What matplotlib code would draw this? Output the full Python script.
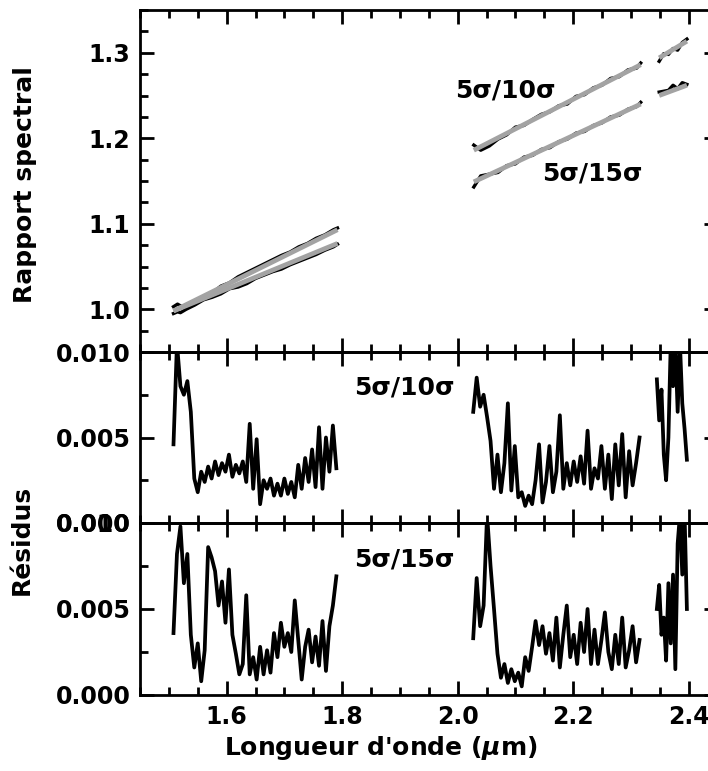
import matplotlib
matplotlib.use("Agg")
import matplotlib.pyplot as plt
from matplotlib.ticker import MultipleLocator, FormatStrFormatter

plt.rcParams['font.family'] = ['DejaVu Sans']
plt.rcParams['font.weight'] = 'bold'

# -------------------------------
# Data
# -------------------------------
# Spectral ratio, 5s/10s and 5s/15s (black, noisy)
r10_x1 = [1.508, 1.515, 1.520, 1.530, 1.545, 1.560, 1.575, 1.590, 1.605, 1.620, 1.635,
          1.650, 1.665, 1.680, 1.695, 1.710, 1.725, 1.740, 1.755, 1.770, 1.785, 1.792]
r10_y1 = [1.003, 1.006, 1.004, 1.001, 1.007, 1.012, 1.019, 1.027, 1.031, 1.038, 1.043,
          1.048, 1.053, 1.058, 1.063, 1.067, 1.073, 1.077, 1.083, 1.087, 1.093, 1.095]
r15_y1 = [0.995, 0.997, 0.996, 1.000, 1.005, 1.011, 1.014, 1.018, 1.024, 1.026, 1.030,
          1.036, 1.040, 1.044, 1.047, 1.052, 1.056, 1.060, 1.064, 1.069, 1.073, 1.076]

r_x2 = [2.028, 2.040, 2.055, 2.070, 2.085, 2.100, 2.115, 2.130, 2.145, 2.160, 2.175,
        2.190, 2.205, 2.220, 2.235, 2.250, 2.265, 2.280, 2.295, 2.310, 2.317]
r10_y2 = [1.192, 1.186, 1.191, 1.199, 1.204, 1.213, 1.215, 1.222, 1.228, 1.231, 1.238,
          1.240, 1.249, 1.251, 1.259, 1.262, 1.270, 1.272, 1.280, 1.282, 1.288]
r15_y2 = [1.143, 1.156, 1.158, 1.160, 1.168, 1.170, 1.178, 1.180, 1.187, 1.189, 1.196,
          1.199, 1.206, 1.208, 1.215, 1.218, 1.225, 1.227, 1.234, 1.237, 1.242]

r_x3 = [2.349, 2.357, 2.365, 2.373, 2.381, 2.389, 2.397]
r10_y3 = [1.290, 1.299, 1.298, 1.305, 1.303, 1.312, 1.316]
r15_y3 = [1.254, 1.255, 1.256, 1.262, 1.258, 1.265, 1.263]

# Linear fits (grey), start/end of each segment
fit_x = [(1.508, 1.792), (2.028, 2.317), (2.349, 2.397)]
fit10_y = [(0.998, 1.093), (1.186, 1.286), (1.294, 1.3135)]
fit15_y = [(0.998, 1.077), (1.149, 1.240), (1.250, 1.262)]

# Residuals (x 1e-3)
res_x1 = [1.508, 1.514, 1.520, 1.526, 1.532, 1.538, 1.544, 1.550, 1.556, 1.562, 1.568, 1.574,
          1.580, 1.586, 1.592, 1.598, 1.604, 1.610, 1.616, 1.622, 1.628, 1.634, 1.640, 1.646,
          1.652, 1.658, 1.664, 1.670, 1.676, 1.682, 1.688, 1.694, 1.700, 1.706, 1.712, 1.718,
          1.724, 1.730, 1.736, 1.742, 1.748, 1.754, 1.760, 1.766, 1.772, 1.778, 1.784, 1.790]
res10_y1 = [4.6, 10.5, 8.0, 7.5, 8.3, 6.5, 2.6, 1.8, 3.0, 2.4, 3.3, 2.6,
            3.6, 2.8, 3.5, 3.0, 4.0, 2.7, 3.4, 2.9, 3.6, 2.4, 5.8, 2.0,
            4.9, 1.1, 2.5, 2.0, 2.6, 1.6, 2.3, 1.6, 2.6, 1.7, 2.4, 1.5,
            3.4, 2.0, 3.8, 2.4, 4.3, 2.1, 5.6, 2.0, 5.0, 3.0, 5.7, 3.2]
res15_y1 = [3.6, 8.2, 9.8, 6.5, 8.2, 3.5, 1.6, 3.0, 0.8, 2.6, 8.6, 8.0,
            7.2, 5.2, 6.6, 4.2, 7.3, 3.5, 2.4, 1.2, 1.8, 5.8, 1.2, 2.2,
            0.9, 2.8, 1.2, 2.6, 1.3, 3.6, 2.2, 4.2, 2.8, 3.6, 2.5, 5.5,
            3.2, 0.9, 2.8, 3.8, 1.9, 3.4, 1.7, 4.3, 1.4, 4.0, 5.2, 6.9]

res_x2 = [2.027, 2.033, 2.039, 2.045, 2.051, 2.057, 2.063, 2.069, 2.075, 2.081, 2.087, 2.093,
          2.099, 2.105, 2.111, 2.117, 2.123, 2.129, 2.135, 2.141, 2.147, 2.153, 2.159, 2.165,
          2.171, 2.177, 2.183, 2.189, 2.195, 2.201, 2.207, 2.213, 2.219, 2.225, 2.231, 2.237,
          2.243, 2.249, 2.255, 2.261, 2.267, 2.273, 2.279, 2.285, 2.291, 2.297, 2.303, 2.309,
          2.315]
res10_y2 = [6.5, 8.5, 6.8, 7.5, 6.2, 4.8, 2.0, 4.0, 1.8, 3.5, 7.0, 1.9,
            4.5, 1.5, 1.8, 1.0, 1.6, 1.1, 2.5, 4.6, 1.2, 2.4, 4.5, 1.8,
            3.0, 6.3, 2.0, 3.5, 2.2, 3.6, 2.4, 3.9, 2.3, 5.4, 2.0, 3.2,
            2.6, 4.5, 2.0, 4.0, 1.4, 4.6, 2.2, 5.2, 1.5, 4.2, 2.2, 3.5,
            5.0]
res15_y2 = [3.3, 6.8, 4.0, 5.2, 10.5, 7.5, 5.0, 2.4, 1.0, 1.8, 0.7, 1.5,
            0.8, 1.3, 0.5, 2.2, 1.4, 2.8, 4.3, 2.9, 4.0, 2.4, 3.6, 2.0,
            4.5, 1.6, 3.5, 5.2, 2.2, 3.5, 1.8, 4.2, 2.5, 5.0, 1.8, 3.8,
            1.8, 3.2, 4.8, 2.5, 1.5, 3.5, 1.8, 4.5, 1.6, 2.6, 4.0, 1.9,
            3.2]

res_x3 = [2.345, 2.349, 2.353, 2.357, 2.361, 2.365, 2.369, 2.373, 2.377, 2.381, 2.385,
          2.389, 2.393, 2.397]
res10_y3 = [8.4, 6.0, 7.8, 4.0, 2.5, 5.0, 10.5, 8.0, 10.5, 6.5, 10.5, 7.0, 5.5, 3.7]
res15_y3 = [5.0, 6.4, 3.5, 4.5, 2.0, 6.5, 3.0, 7.0, 1.5, 8.8, 10.5, 7.0, 10.5, 5.0]

label10 = "5\u03c3/10\u03c3"
label15 = "5\u03c3/15\u03c3"

# -------------------------------
# Figure (right spine falls just outside the picture, as in the original)
# -------------------------------
W, H = 708, 771
fig = plt.figure(figsize=(W / 100, H / 100), dpi=100)
x0, x1 = 140 / W, 717.5 / W

ax_top = fig.add_axes([x0, (H - 352) / H, x1 - x0, 342 / H])
ax_mid = fig.add_axes([x0, (H - 523) / H, x1 - x0, 171 / H])
ax_bot = fig.add_axes([x0, (H - 695) / H, x1 - x0, 172 / H])

grey = '#a3a3a3'

# Top panel: ratios and fits
segs10 = [(r10_x1, r10_y1), (r_x2, r10_y2), (r_x3, r10_y3)]
segs15 = [(r10_x1, r15_y1), (r_x2, r15_y2), (r_x3, r15_y3)]
for (xs, ys) in segs10 + segs15:
    ax_top.plot(xs, ys, color='black', lw=2.4, zorder=2)
for fx, f10, f15 in zip(fit_x, fit10_y, fit15_y):
    ax_top.plot(fx, f10, color=grey, lw=3.4, solid_capstyle='butt', zorder=3)
    ax_top.plot(fx, f15, color=grey, lw=3.4, solid_capstyle='butt', zorder=3)
ax_top.set_ylim(0.95, 1.35)
ax_top.yaxis.set_major_locator(MultipleLocator(0.1))
ax_top.yaxis.set_minor_locator(MultipleLocator(0.025))
ax_top.yaxis.set_major_formatter(FormatStrFormatter('%.1f'))
ax_top.text(2.082, 1.2555, label10, fontsize=18, fontweight='bold', ha='center', va='center')
ax_top.text(2.233, 1.159, label15, fontsize=18, fontweight='bold', ha='center', va='center')

# Residual panels
for ax, segs, lab in [
    (ax_mid, [(res_x1, res10_y1), (res_x2, res10_y2), (res_x3, res10_y3)], label10),
    (ax_bot, [(res_x1, res15_y1), (res_x2, res15_y2), (res_x3, res15_y3)], label15),
]:
    for xs, ys in segs:
        ax.plot(xs, [v * 1e-3 for v in ys], color='black', lw=2.7)
    ax.set_ylim(0.0, 0.010)
    ax.yaxis.set_major_locator(MultipleLocator(0.005))
    ax.yaxis.set_minor_locator(MultipleLocator(0.0025))
    ax.yaxis.set_major_formatter(FormatStrFormatter('%.3f'))
    ax.text(1.907, 0.0079, lab, fontsize=18, fontweight='bold', ha='center', va='center')

for ax in (ax_top, ax_mid, ax_bot):
    ax.set_xlim(1.45, 2.45)
    ax.xaxis.set_major_locator(MultipleLocator(0.2))
    ax.xaxis.set_minor_locator(MultipleLocator(0.05))
    ax.xaxis.set_major_formatter(FormatStrFormatter('%.1f'))
    ax.tick_params(which='both', direction='in', top=True, right=True, width=2)
    ax.tick_params(which='major', length=10, labelsize=17, pad=7)
    ax.tick_params(which='minor', length=6)
    for s in ax.spines.values():
        s.set_linewidth(2)
    ax.patch.set_alpha(0)
    for lbl in ax.get_xticklabels() + ax.get_yticklabels():
        lbl.set_fontweight('bold')

ax_top.tick_params(labelbottom=False)
ax_mid.tick_params(labelbottom=False)

fig.text(25 / W, (H - 185) / H, "Rapport spectral", rotation=90, fontsize=18,
         fontweight='bold', ha='center', va='center')
fig.text(22 / W, (H - 540) / H, "R\u00e9sidus", rotation=90, fontsize=18,
         fontweight='bold', ha='center', va='center')
fig.text(381 / W, (H - 748) / H, "Longueur d'onde ($\\mu$m)", fontsize=18,
         fontweight='bold', ha='center', va='center')

fig.savefig('out.png', dpi=100)
